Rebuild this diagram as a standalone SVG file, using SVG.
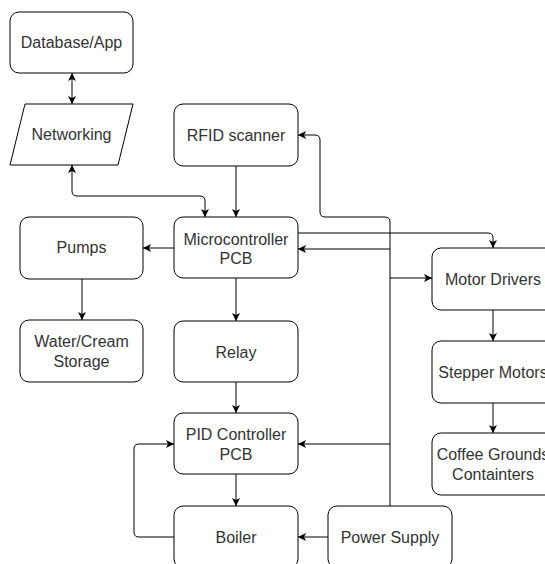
<svg xmlns="http://www.w3.org/2000/svg" width="545" height="564" viewBox="0 0 545 564">
  <style>
    .box { fill: #ffffff; stroke: #000000; stroke-width: 1; }
    .lbl { font-family: "Liberation Sans", Arial, sans-serif; font-size: 16px; fill: #333333; text-anchor: middle; }
    .edge { fill: none; stroke: #000000; stroke-width: 1; }
    .arr { marker-end: url(#head); }
    .both { marker-start: url(#tail); marker-end: url(#head); }
  </style>
  <defs>
    <marker id="head" markerUnits="userSpaceOnUse" markerWidth="10" markerHeight="10" refX="8" refY="4" orient="auto">
      <path d="M0,0 L8,4 L0,8 L2,4 z" fill="#000000"/>
    </marker>
    <marker id="tail" markerUnits="userSpaceOnUse" markerWidth="10" markerHeight="10" refX="0" refY="4" orient="auto">
      <path d="M8,0 L0,4 L8,8 L6,4 z" fill="#000000"/>
    </marker>
  </defs>
  <rect width="545" height="564" fill="#ffffff"/>

  <g id="connectors">
    <path class="edge both" d="M72,73 V104"/>
    <path class="edge both" d="M205,217 V201 Q205,196 200,196 H77 Q72,196 72,191 V165"/>
    <path class="edge arr" d="M236,166 V217"/>
    <path class="edge arr" d="M298,233 H488 Q493,233 493,238 V248"/>
    <!-- power supply trunk, running up to the RFID scanner -->
    <path class="edge arr" d="M390,506 V222 Q390,217 385,217 H325 Q320,217 320,212 V140 Q320,135 315,135 H298"/>
    <!-- branches off the trunk -->
    <path class="edge arr" d="M390,249 H298"/>
    <path class="edge arr" d="M390,278 H432"/>
    <path class="edge arr" d="M390,444 H298"/>
    <path class="edge arr" d="M328,537 H298"/>
    <path class="edge arr" d="M174,248 H143"/>
    <path class="edge arr" d="M82,279 V320"/>
    <path class="edge arr" d="M236,278 V321"/>
    <path class="edge arr" d="M236,382 V413"/>
    <path class="edge arr" d="M236,474 V506"/>
    <path class="edge arr" d="M174,537 H139 Q134,537 134,532 V449 Q134,444 139,444 H174"/>
    <path class="edge arr" d="M493,310 V341"/>
    <path class="edge arr" d="M493,403 V433"/>
  </g>

  <g id="database">
    <rect class="box" x="10" y="12" width="123" height="61" rx="9"/>
    <text class="lbl" x="71.5" y="48">Database/App</text>
  </g>
  <g id="networking">
    <polygon class="box" points="25,104 133,104 118,165 10,165"/>
    <text class="lbl" x="71.5" y="140">Networking</text>
  </g>
  <g id="rfid">
    <rect class="box" x="174" y="104" width="124" height="62" rx="9"/>
    <text class="lbl" x="236" y="141">RFID scanner</text>
  </g>
  <g id="microcontroller">
    <rect class="box" x="174" y="217" width="124" height="61" rx="9"/>
    <text class="lbl" x="236" y="245">Microcontroller</text>
    <text class="lbl" x="236" y="264">PCB</text>
  </g>
  <g id="pumps">
    <rect class="box" x="20" y="217" width="123" height="62" rx="9"/>
    <text class="lbl" x="81.5" y="253">Pumps</text>
  </g>
  <g id="storage">
    <rect class="box" x="20" y="320" width="123" height="62" rx="9"/>
    <text class="lbl" x="81.5" y="347">Water/Cream</text>
    <text class="lbl" x="81.5" y="367">Storage</text>
  </g>
  <g id="relay">
    <rect class="box" x="174" y="321" width="124" height="61" rx="9"/>
    <text class="lbl" x="236" y="358">Relay</text>
  </g>
  <g id="pid">
    <rect class="box" x="174" y="413" width="124" height="61" rx="9"/>
    <text class="lbl" x="236" y="440">PID Controller</text>
    <text class="lbl" x="236" y="460">PCB</text>
  </g>
  <g id="boiler">
    <rect class="box" x="174" y="506" width="124" height="62" rx="9"/>
    <text class="lbl" x="236" y="543">Boiler</text>
  </g>
  <g id="power">
    <rect class="box" x="328" y="506" width="124" height="62" rx="9"/>
    <text class="lbl" x="390" y="543">Power Supply</text>
  </g>
  <g id="motor-drivers">
    <rect class="box" x="432" y="248" width="122" height="62" rx="9"/>
    <text class="lbl" x="493" y="285">Motor Drivers</text>
  </g>
  <g id="stepper">
    <rect class="box" x="432" y="341" width="122" height="62" rx="9"/>
    <text class="lbl" x="493" y="378">Stepper Motors</text>
  </g>
  <g id="coffee">
    <rect class="box" x="432" y="433" width="122" height="62" rx="9"/>
    <text class="lbl" x="493" y="460">Coffee Grounds</text>
    <text class="lbl" x="493" y="480">Containters</text>
  </g>
</svg>
